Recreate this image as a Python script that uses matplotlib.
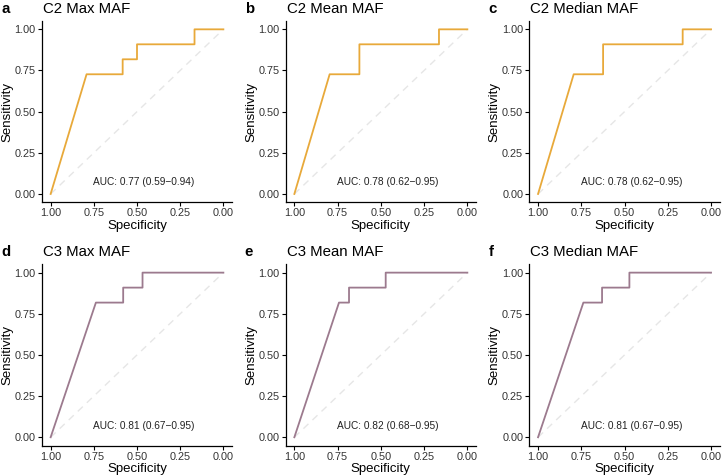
import matplotlib
matplotlib.use("Agg")
import matplotlib.pyplot as plt

plt.rcParams['font.family'] = ['Liberation Sans', 'DejaVu Sans']

# ROC curves: (specificity, sensitivity) pairs
letters = ["a", "b", "c", "d", "e", "f"]
titles = ["C2 Max MAF", "C2 Mean MAF", "C2 Median MAF",
          "C3 Max MAF", "C3 Mean MAF", "C3 Median MAF"]
auc_labels = ["AUC: 0.77 (0.59\u22120.94)", "AUC: 0.78 (0.62\u22120.95)", "AUC: 0.78 (0.62\u22120.95)",
              "AUC: 0.81 (0.67\u22120.95)", "AUC: 0.82 (0.68\u22120.95)", "AUC: 0.81 (0.67\u22120.95)"]

spec_a = [1.0, 0.792, 0.583, 0.583, 0.5, 0.5, 0.167, 0.167, 0.0]
sens_a = [0.0, 0.727, 0.727, 0.818, 0.818, 0.909, 0.909, 1.0, 1.0]
spec_b = [1.0, 0.796, 0.624, 0.624, 0.164, 0.164, 0.0]
sens_b = [0.0, 0.727, 0.727, 0.909, 0.909, 1.0, 1.0]
spec_c = [1.0, 0.794, 0.624, 0.624, 0.164, 0.164, 0.0]
sens_c = [0.0, 0.727, 0.727, 0.909, 0.909, 1.0, 1.0]
spec_d = [1.0, 0.738, 0.58, 0.58, 0.468, 0.468, 0.0]
sens_d = [0.0, 0.818, 0.818, 0.909, 0.909, 1.0, 1.0]
spec_e = [1.0, 0.742, 0.684, 0.684, 0.472, 0.472, 0.0]
sens_e = [0.0, 0.818, 0.818, 0.909, 0.909, 1.0, 1.0]
spec_f = [1.0, 0.738, 0.630, 0.630, 0.472, 0.472, 0.0]
sens_f = [0.0, 0.818, 0.818, 0.909, 0.909, 1.0, 1.0]

specs = [spec_a, spec_b, spec_c, spec_d, spec_e, spec_f]
senss = [sens_a, sens_b, sens_c, sens_d, sens_e, sens_f]
colors = ["#E8A93A"] * 3 + ["#9C7A8E"] * 3

W, H = 722, 476
fig = plt.figure(figsize=(W / 100, H / 100), dpi=100)

# axes boxes in pixels: left, right, top, bottom
col_lr = [(42.0, 232.0), (285.7, 476.0), (529.4, 719.7)]
row_tb = [(21.1, 202.2), (264.4, 445.5)]
tick_lbls = ["0.00", "0.25", "0.50", "0.75", "1.00"]

for i in range(6):
    r, c = divmod(i, 3)
    l, rr = col_lr[c]
    t, b = row_tb[r]
    ax = fig.add_axes([l / W, 1 - b / H, (rr - l) / W, (b - t) / H])
    ax.plot([1, 0], [0, 1], color="#E6E6E6", lw=1.0, ls=(0, (5, 4)), zorder=1)
    ax.plot(specs[i], senss[i], color=colors[i], lw=1.3, zorder=2)
    ax.set_xlim(1.05, -0.05)
    ax.set_ylim(-0.05, 1.05)
    ticks = [0, 0.25, 0.5, 0.75, 1.0]
    ax.set_xticks(ticks)
    ax.set_xticklabels(tick_lbls)
    ax.set_yticks(ticks)
    ax.set_yticklabels(tick_lbls)
    ax.tick_params(labelsize=7.8, colors="black", labelcolor="#333333", length=3, width=0.8, pad=1.5)
    for s in ["top", "right"]:
        ax.spines[s].set_visible(False)
    for s in ["left", "bottom"]:
        ax.spines[s].set_linewidth(0.9)
    ax.set_xlabel("Specificity", fontsize=9.5, labelpad=1)
    ax.set_ylabel("Sensitivity", fontsize=9.5, labelpad=1)
    ax.text(0.46, 0.07, auc_labels[i], fontsize=7.3, ha="center", va="center", color="#222222")
    ty = 9 if r == 0 else 252
    fig.text((l + 1) / W, 1 - ty / H, titles[i], fontsize=10.8, ha="left", va="center")
    fig.text((l - 41) / W, 1 - ty / H, letters[i], fontsize=10.8,
             fontweight="bold", ha="left", va="center")

fig.savefig("out.png", dpi=100)
